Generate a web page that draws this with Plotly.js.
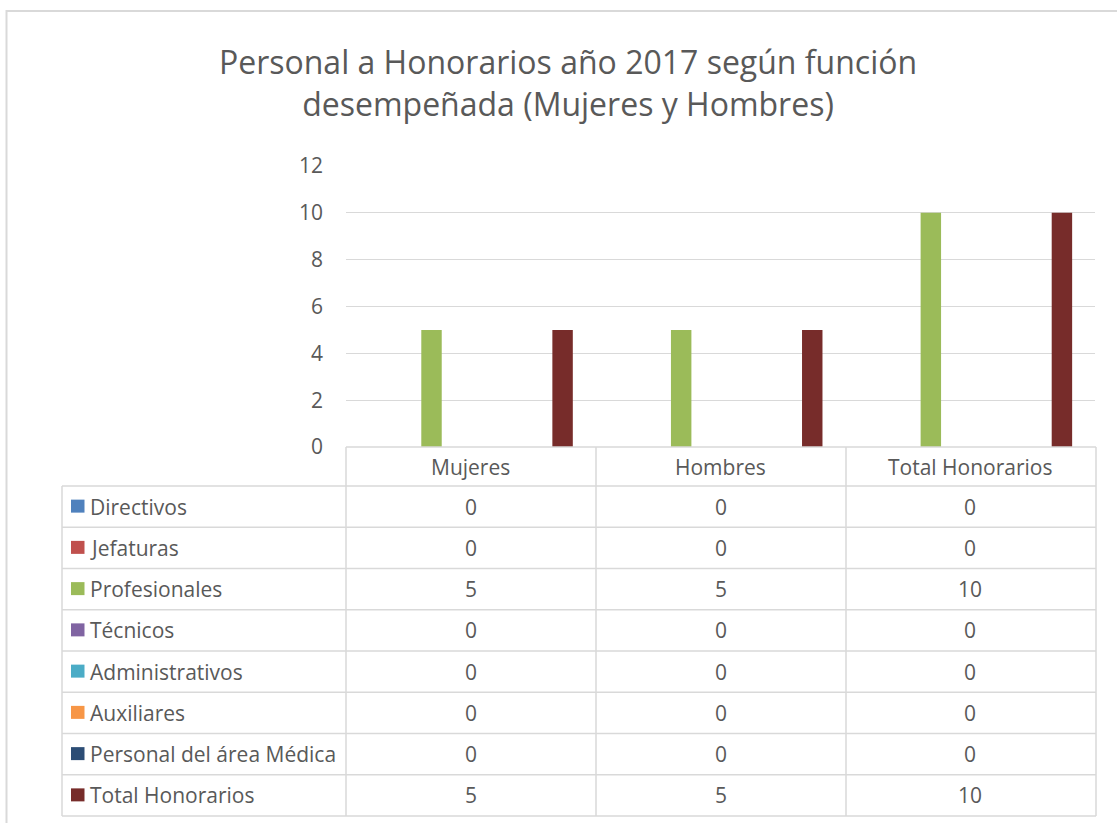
<!DOCTYPE html>
<html>
<head>
<meta charset="utf-8">
<script src="https://cdn.plot.ly/plotly-3.0.1.min.js"></script>
<style>
html,body{margin:0;padding:0;background:#fff;}
#chart{width:1117px;height:823px;}
</style>
</head>
<body>
<div id="chart"></div>
<script>
// ---- Data ----
const categories = ['Mujeres', 'Hombres', 'Total Honorarios'];
const seriesNames = ['Directivos', 'Jefaturas', 'Profesionales', 'Técnicos', 'Administrativos', 'Auxiliares', 'Personal del área Médica', 'Total Honorarios'];
const directivos = [0, 0, 0];
const jefaturas = [0, 0, 0];
const profesionales = [5, 5, 10];
const tecnicos = [0, 0, 0];
const administrativos = [0, 0, 0];
const auxiliares = [0, 0, 0];
const personalMedica = [0, 0, 0];
const totalHonorarios = [5, 5, 10];
const seriesColors = ['#4F81BD', '#C0504D', '#9BBB59', '#8064A2', '#4BACC6', '#F79646', '#2C4D75', '#772C2A'];
const yTickVals = [0, 2, 4, 6, 8, 10, 12];
const titleText = 'Personal a Honorarios año 2017 según función<br>desempeñada (Mujeres y Hombres)';

const seriesValues = [directivos, jefaturas, profesionales, tecnicos, administrativos, auxiliares, personalMedica, totalHonorarios];

// ---- Layout geometry (pixels) ----
const W = 1117, H = 823;
const plotL = 346, plotR = 1095, plotT = 166, plotB = 447;
const xp = px => (px - plotL) / (plotR - plotL);
const yp = py => (plotB - py) / (plotB - plotT);

const FONT = '"Open Sans", Lato, sans-serif';
const TXT = '#595959';
const GRID = '#d9d9d9';
const FS = 21;

const traces = seriesNames.map((name, i) => ({
  type: 'bar',
  name: name,
  x: categories,
  y: seriesValues[i],
  marker: {color: seriesColors[i]},
  showlegend: false,
  hovertemplate: name + ' - %{x}: %{y}<extra></extra>'
}));

// Table geometry
const tableLeft = 62, tableRight = 1096;
const colEdges = [346, 596, 846, 1096];
const headerTop = 447, headerBottom = 486;
const rowH = (816 - 486) / seriesNames.length;

const shapes = [];
const annotations = [];
const line = {color: GRID, width: 1.5};

// outer chart border
shapes.push({type: 'rect', xref: 'paper', yref: 'paper',
  x0: xp(6.5), x1: xp(1140), y0: yp(11), y1: yp(860),
  line: {color: GRID, width: 2}, fillcolor: 'rgba(0,0,0,0)', layer: 'below'});

// header row lines
shapes.push({type: 'line', xref: 'paper', yref: 'paper', x0: xp(colEdges[0]), x1: xp(tableRight), y0: yp(headerTop), y1: yp(headerTop), line});
const tableBottom = headerBottom + rowH * seriesNames.length;
colEdges.forEach(cx => {
  shapes.push({type: 'line', xref: 'paper', yref: 'paper', x0: xp(cx), x1: xp(cx), y0: yp(headerTop), y1: yp(tableBottom), line});
});
shapes.push({type: 'line', xref: 'paper', yref: 'paper', x0: xp(tableLeft), x1: xp(tableLeft), y0: yp(headerBottom), y1: yp(tableBottom), line});
for (let r = 0; r <= seriesNames.length; r++) {
  const y = headerBottom + r * rowH;
  shapes.push({type: 'line', xref: 'paper', yref: 'paper', x0: xp(tableLeft), x1: xp(tableRight), y0: yp(y), y1: yp(y), line});
}

// header labels (categories)
categories.forEach(c => {
  annotations.push({xref: 'x', yref: 'paper', x: c, y: yp((headerTop + headerBottom) / 2),
    text: c, showarrow: false, xanchor: 'center', yanchor: 'middle',
    font: {family: FONT, size: FS, color: TXT}});
});

// rows
seriesNames.forEach((name, i) => {
  const cy = headerBottom + rowH * (i + 0.5);
  shapes.push({type: 'rect', xref: 'paper', yref: 'paper',
    x0: xp(71), x1: xp(84.5), y0: yp(cy - 7), y1: yp(cy + 6),
    fillcolor: seriesColors[i], line: {width: 0}});
  annotations.push({xref: 'paper', yref: 'paper', x: xp(88), y: yp(cy),
    text: name, showarrow: false, xanchor: 'left', yanchor: 'middle',
    font: {family: FONT, size: FS, color: TXT}});
  categories.forEach((c, j) => {
    annotations.push({xref: 'x', yref: 'paper', x: c, y: yp(cy),
      text: String(seriesValues[i][j]), showarrow: false, xanchor: 'center', yanchor: 'middle',
      font: {family: FONT, size: FS, color: TXT}});
  });
});

const layout = {
  width: W, height: H,
  paper_bgcolor: '#ffffff', plot_bgcolor: '#ffffff',
  margin: {l: plotL, r: W - plotR, t: plotT, b: H - plotB, pad: 0, autoexpand: false},
  title: {
    text: titleText,
    font: {family: FONT, size: 32, color: TXT},
    xref: 'container', yref: 'container',
    x: 568 / W, xanchor: 'center',
    y: 1 - 74 / H, yanchor: 'top'
  },
  barmode: 'group',
  bargap: 0.16,
  bargroupgap: 0.22,
  xaxis: {
    type: 'category',
    range: [-0.5, 2.5],
    showticklabels: false,
    showgrid: false, zeroline: false, showline: false, ticks: '',
    fixedrange: true, automargin: false
  },
  yaxis: {
    range: [0, 12],
    tickvals: yTickVals,
    showgrid: true, gridcolor: GRID, gridwidth: 1.3,
    zeroline: false, showline: false, ticks: '',
    tickfont: {family: FONT, size: FS, color: TXT},
    ticklabelstandoff: 22,
    fixedrange: true, automargin: false
  },
  shapes: shapes,
  annotations: annotations,
  showlegend: false
};

Plotly.newPlot('chart', traces, layout, {displayModeBar: false, staticPlot: true});
</script>
</body>
</html>
